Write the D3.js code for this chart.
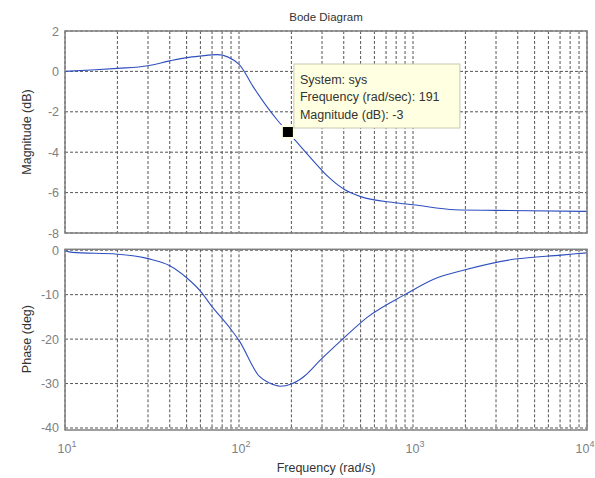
<!DOCTYPE html>
<html>
<head>
<meta charset="utf-8">
<script src="https://cdn.jsdelivr.net/npm/d3@7"></script>
<style>
  body { margin: 0; background: #fff; }
  svg { font-family: "Liberation Sans", Arial, sans-serif; }
</style>
</head>
<body>
<svg id="chart" width="595" height="478"></svg>
<script>
// magnitude response
const magFreq = [10, 15, 20, 30, 40, 50, 60, 75, 100, 120, 144, 165, 191, 210, 272, 324, 406, 500, 788, 1000, 1743, 3000, 10000];
const magDb   = [0, 0.08, 0.15, 0.28, 0.52, 0.68, 0.76, 0.83, 0.35, -0.73, -1.72, -2.38, -3.0, -3.4, -4.5, -5.2, -5.86, -6.2, -6.5, -6.6, -6.85, -6.88, -6.93];

// phase response
const phFreq = [10, 11, 20, 30, 40, 50, 60, 70, 89, 100, 131, 150, 172, 200, 224, 240, 292, 394, 550, 897, 1335, 1996, 3866, 7110, 10000];
const phDeg  = [-0.1, -0.5, -0.9, -1.9, -3.5, -6.2, -9.2, -12.7, -17.6, -20.3, -28.4, -29.9, -30.6, -30.1, -29.1, -28.2, -24.8, -20, -15, -10, -6.4, -4.4, -2, -1.1, -0.6];

const magTicks = [2, 0, -2, -4, -6, -8];
const phTicks = [0, -10, -20, -30, -40];
const decades = [1, 2, 3, 4];

// data tip
const tipFreq = 191, tipDb = -3;
const tipLines = ["System: sys", "Frequency (rad/sec): 191", "Magnitude (dB): -3"];

const svg = d3.select("#chart");
const left = 65, right = 587;

const x = d3.scaleLog().domain([10, 10000]).range([left, right]);
const yMag = d3.scaleLinear().domain([-8, 2]).range([233, 31]);
const yPh = d3.scaleLinear().domain([-40.45, 0.2]).range([430, 249.3]);

const minorTicks = [];
decades.slice(0, 3).forEach(d => {
    for (let k = 2; k <= 9; k++) minorTicks.push(k * Math.pow(10, d));
});
const allX = decades.map(d => Math.pow(10, d)).concat(minorTicks);

const curveColor = "#2f4fbf";
const gridColor = "#555";
const labelGray = "#808080";

function drawPanel(y, ticks, fx, fy) {
    const [y0, y1] = y.range();
    const g = svg.append("g");

    // vertical grid
    g.selectAll(".vg").data(allX).join("line")
        .attr("x1", d => x(d)).attr("x2", d => x(d))
        .attr("y1", y1).attr("y2", y0)
        .attr("stroke", gridColor).attr("stroke-width", 1)
        .attr("stroke-dasharray", "3,2");

    // horizontal grid
    g.selectAll(".hg").data(ticks).join("line")
        .attr("x1", left).attr("x2", right)
        .attr("y1", d => y(d)).attr("y2", d => y(d))
        .attr("stroke", gridColor).attr("stroke-width", 1)
        .attr("stroke-dasharray", "3,2");

    // y tick labels
    g.selectAll(".yt").data(ticks).join("text")
        .attr("x", left - 6).attr("y", d => y(d) + 4.5)
        .attr("text-anchor", "end")
        .attr("font-size", 12.5).attr("fill", labelGray)
        .text(d => d);

    const line = d3.line()
        .x((d, i) => x(fx[i]))
        .y(d => y(d))
        .curve(d3.curveMonotoneX);

    g.append("path").datum(fy)
        .attr("d", line)
        .attr("fill", "none")
        .attr("stroke", curveColor)
        .attr("stroke-width", 1.1);

    // box
    g.append("rect")
        .attr("x", left).attr("y", y1)
        .attr("width", right - left).attr("height", y0 - y1)
        .attr("fill", "none").attr("stroke", "#808080").attr("stroke-width", 1.5);
    return g;
}

drawPanel(yMag, magTicks, magFreq, magDb);
drawPanel(yPh, phTicks, phFreq, phDeg);

// x tick labels, 10^n (last one nudged so it stays on the page)
decades.forEach(d => {
    const t = svg.append("text")
        .attr("x", x(Math.pow(10, d)) + (d === 4 ? -2 : 2))
        .attr("y", 453)
        .attr("text-anchor", "middle")
        .attr("font-size", 12.5)
        .attr("fill", labelGray);
    t.append("tspan").text("10");
    t.append("tspan").attr("dy", -6).attr("font-size", 9).text(d);
});

// titles
svg.append("text")
    .attr("x", 326).attr("y", 21)
    .attr("text-anchor", "middle")
    .attr("font-size", 11.5).attr("fill", "#333")
    .text("Bode Diagram");

svg.append("text")
    .attr("x", 326).attr("y", 472)
    .attr("text-anchor", "middle")
    .attr("font-size", 12.5).attr("fill", "#333")
    .text("Frequency (rad/s)");

svg.append("text")
    .attr("transform", `translate(31,${(yMag(2) + yMag(-8)) / 2}) rotate(-90)`)
    .attr("text-anchor", "middle")
    .attr("font-size", 12.5).attr("fill", "#333")
    .text("Magnitude (dB)");

svg.append("text")
    .attr("transform", `translate(31,${(yPh(0) + yPh(-40)) / 2}) rotate(-90)`)
    .attr("text-anchor", "middle")
    .attr("font-size", 12.5).attr("fill", "#333")
    .text("Phase (deg)");

// data tip marker + box
const mx = x(tipFreq), my = yMag(tipDb);
svg.append("rect")
    .attr("x", mx - 7).attr("y", my - 7).attr("width", 14).attr("height", 14)
    .attr("fill", "#ffffe1");
svg.append("rect")
    .attr("x", mx - 5).attr("y", my - 5).attr("width", 10).attr("height", 10)
    .attr("fill", "#000");

const tip = svg.append("g").attr("transform", `translate(${mx + 6},64)`);
tip.append("rect")
    .attr("width", 166).attr("height", 64)
    .attr("fill", "#ffffe1").attr("stroke", "#c8c8b4").attr("stroke-width", 1);
tip.selectAll("text").data(tipLines).join("text")
    .attr("x", 6).attr("y", (d, i) => 19.5 + i * 17.5)
    .attr("font-size", 12.5).attr("fill", "#333")
    .text(d => d);
</script>
</body>
</html>
